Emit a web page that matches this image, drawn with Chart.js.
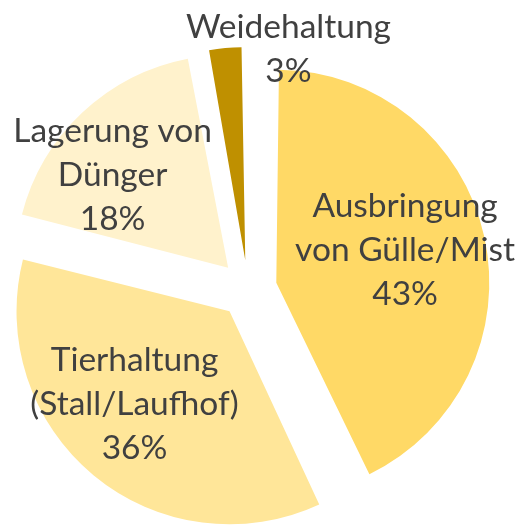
<!DOCTYPE html>
<html>
<head>
<meta charset="utf-8">
<script src="https://cdn.jsdelivr.net/npm/chart.js@4"></script>
<style>
  html, body { margin: 0; padding: 0; background: #fff; }
  #wrap { width: 524px; height: 529px; }
</style>
</head>
<body>
<div id="wrap"><canvas id="pieChart"></canvas></div>
<script>
const categories = [
  ['Ausbringung', 'von Gülle/Mist'],
  ['Tierhaltung', '(Stall/Laufhof)'],
  ['Lagerung von', 'Dünger'],
  ['Weidehaltung']
];
const shares = [43, 36, 18, 3];
const colors = ['#FFD966', '#FFE699', '#FFF2CC', '#BF9000'];

// label placement: distance from centre (in radii) and angle shift (deg) from slice middle
const labelDist = [0.76, 0.76, 0.83, 1.14];
const labelShift = [-1.4, 4.9, -6.8, 15];
const explode = 29;
const radius = 213;
const lineH = 44;

// keep exploded slices at the same radius (Chart.js grows them with offset)
const keepRadius = {
  id: 'keepRadius',
  afterDatasetsUpdate(chart) {
    chart.getDatasetMeta(0).data.forEach(arc => {
      const circ = arc.endAngle - arc.startAngle;
      const fix = 1 - Math.sin(Math.min(Math.PI, circ));
      arc.outerRadius = radius - explode * fix;
    });
  }
};

const sliceLabels = {
  id: 'sliceLabels',
  afterDatasetsDraw(chart) {
    const ctx = chart.ctx;
    const meta = chart.getDatasetMeta(0);
    ctx.save();
    ctx.fillStyle = '#404040';
    ctx.font = '33.5px Lato';
    ctx.textAlign = 'center';
    ctx.textBaseline = 'middle';
    meta.data.forEach((arc, i) => {
      const mid = (arc.startAngle + arc.endAngle) / 2 + labelShift[i] * Math.PI / 180;
      const d = labelDist[i] * radius;
      const cx = arc.x + Math.cos(mid) * d;
      const cy = arc.y + Math.sin(mid) * d;
      const lines = categories[i].concat([shares[i] + '%']);
      const top = cy - (lines.length - 1) * lineH / 2;
      lines.forEach((t, j) => ctx.fillText(t, cx, top + j * lineH));
    });
    ctx.restore();
  }
};

new Chart(document.getElementById('pieChart'), {
  type: 'pie',
  data: {
    labels: categories.map(c => c.join(' ')),
    datasets: [{
      data: shares,
      backgroundColor: colors,
      borderWidth: 0,
      offset: explode * 4,
      hoverOffset: 0,
      radius: radius,
      clip: false
    }]
  },
  options: {
    responsive: true,
    maintainAspectRatio: false,
    animation: false,
    layout: { padding: { left: 0, right: 28, top: 49, bottom: 0 } },
    plugins: {
      legend: { display: false },
      tooltip: { enabled: false }
    }
  },
  plugins: [keepRadius, sliceLabels]
});
</script>
</body>
</html>
